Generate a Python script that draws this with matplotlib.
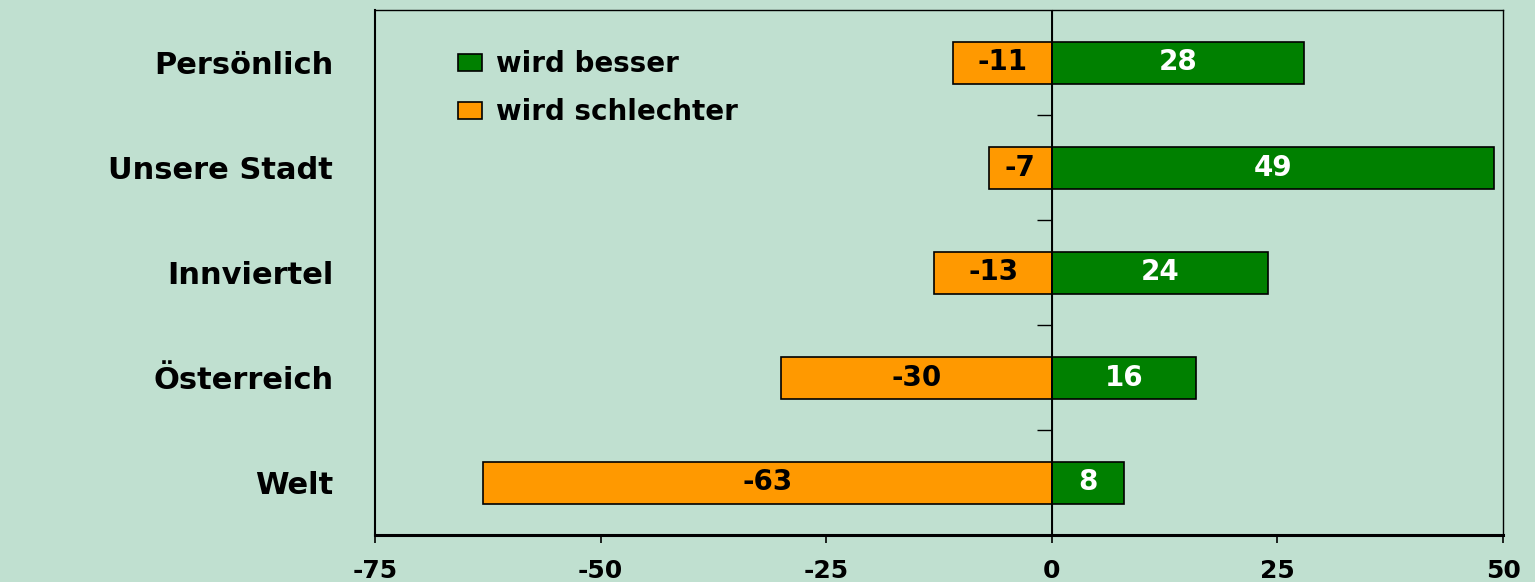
import matplotlib
matplotlib.use("Agg")
import matplotlib.pyplot as plt
import numpy as np

categories = ["Persönlich", "Unsere Stadt", "Innviertel", "Österreich", "Welt"]
besser = [28, 49, 24, 16, 8]
schlechter = [-11, -7, -13, -30, -63]
xticks = [-75, -50, -25, 0, 25, 50]

BG = "#C0E0D0"
GREEN = "#008000"
ORANGE = "#FF9900"

fig = plt.figure(figsize=(15.35, 5.82), dpi=100, facecolor=BG)
ax = fig.add_axes([375/1535, 47/582, 1128/1535, 525/582])
ax.set_facecolor(BG)

y = np.arange(len(categories))
b1 = ax.barh(y, besser, height=0.4, color=GREEN, edgecolor="black", linewidth=1.2, label="wird besser", zorder=3)
b2 = ax.barh(y, schlechter, height=0.4, color=ORANGE, edgecolor="black", linewidth=1.2, label="wird schlechter", zorder=3)

ax.bar_label(b1, labels=[str(v) for v in besser], label_type="center", color="white",
             fontsize=20, fontweight="bold", family="DejaVu Sans")
ax.bar_label(b2, labels=[str(v) for v in schlechter], label_type="center", color="black",
             fontsize=20, fontweight="bold", family="DejaVu Sans")

ax.set_xlim(-75, 50)
ax.set_ylim(len(categories) - 0.5, -0.5)

ax.set_yticks(y)
ax.set_yticklabels(categories, fontsize=22, fontweight="bold", family="DejaVu Sans")
ax.tick_params(axis="y", length=0, pad=30)

ax.set_xticks(xticks)
ax.set_xticklabels([str(t) for t in xticks], fontsize=18, fontweight="bold",
                   family="DejaVu Sans")
ax.tick_params(axis="x", direction="out", length=6, width=1.2, pad=11)

for s in ["top", "right"]:
    ax.spines[s].set_linewidth(1.0)
ax.spines["left"].set_linewidth(1.5)
ax.spines["bottom"].set_linewidth(2.2)

# zero axis with category-boundary ticks
zero_frac = (0 - (-75)) / (50 - (-75))
sec = ax.secondary_yaxis(zero_frac)
sec.set_yticks(y[:-1] + 0.5)
sec.set_yticklabels([])
sec.tick_params(axis="y", direction="in", length=11, width=1.0)
sec.spines["left"].set_linewidth(1.2)
ax.axvline(0, color="black", linewidth=1.4, zorder=4)

leg = ax.legend(loc="upper left", bbox_to_anchor=(0.0736, 0.923), frameon=False,
                prop={"family": "DejaVu Sans", "weight": "bold", "size": 20},
                handlelength=0.85, handleheight=0.6, handletextpad=0.5, labelspacing=0.72,
                borderpad=0, borderaxespad=0)

fig.savefig("out.png", dpi=100, facecolor=BG)
